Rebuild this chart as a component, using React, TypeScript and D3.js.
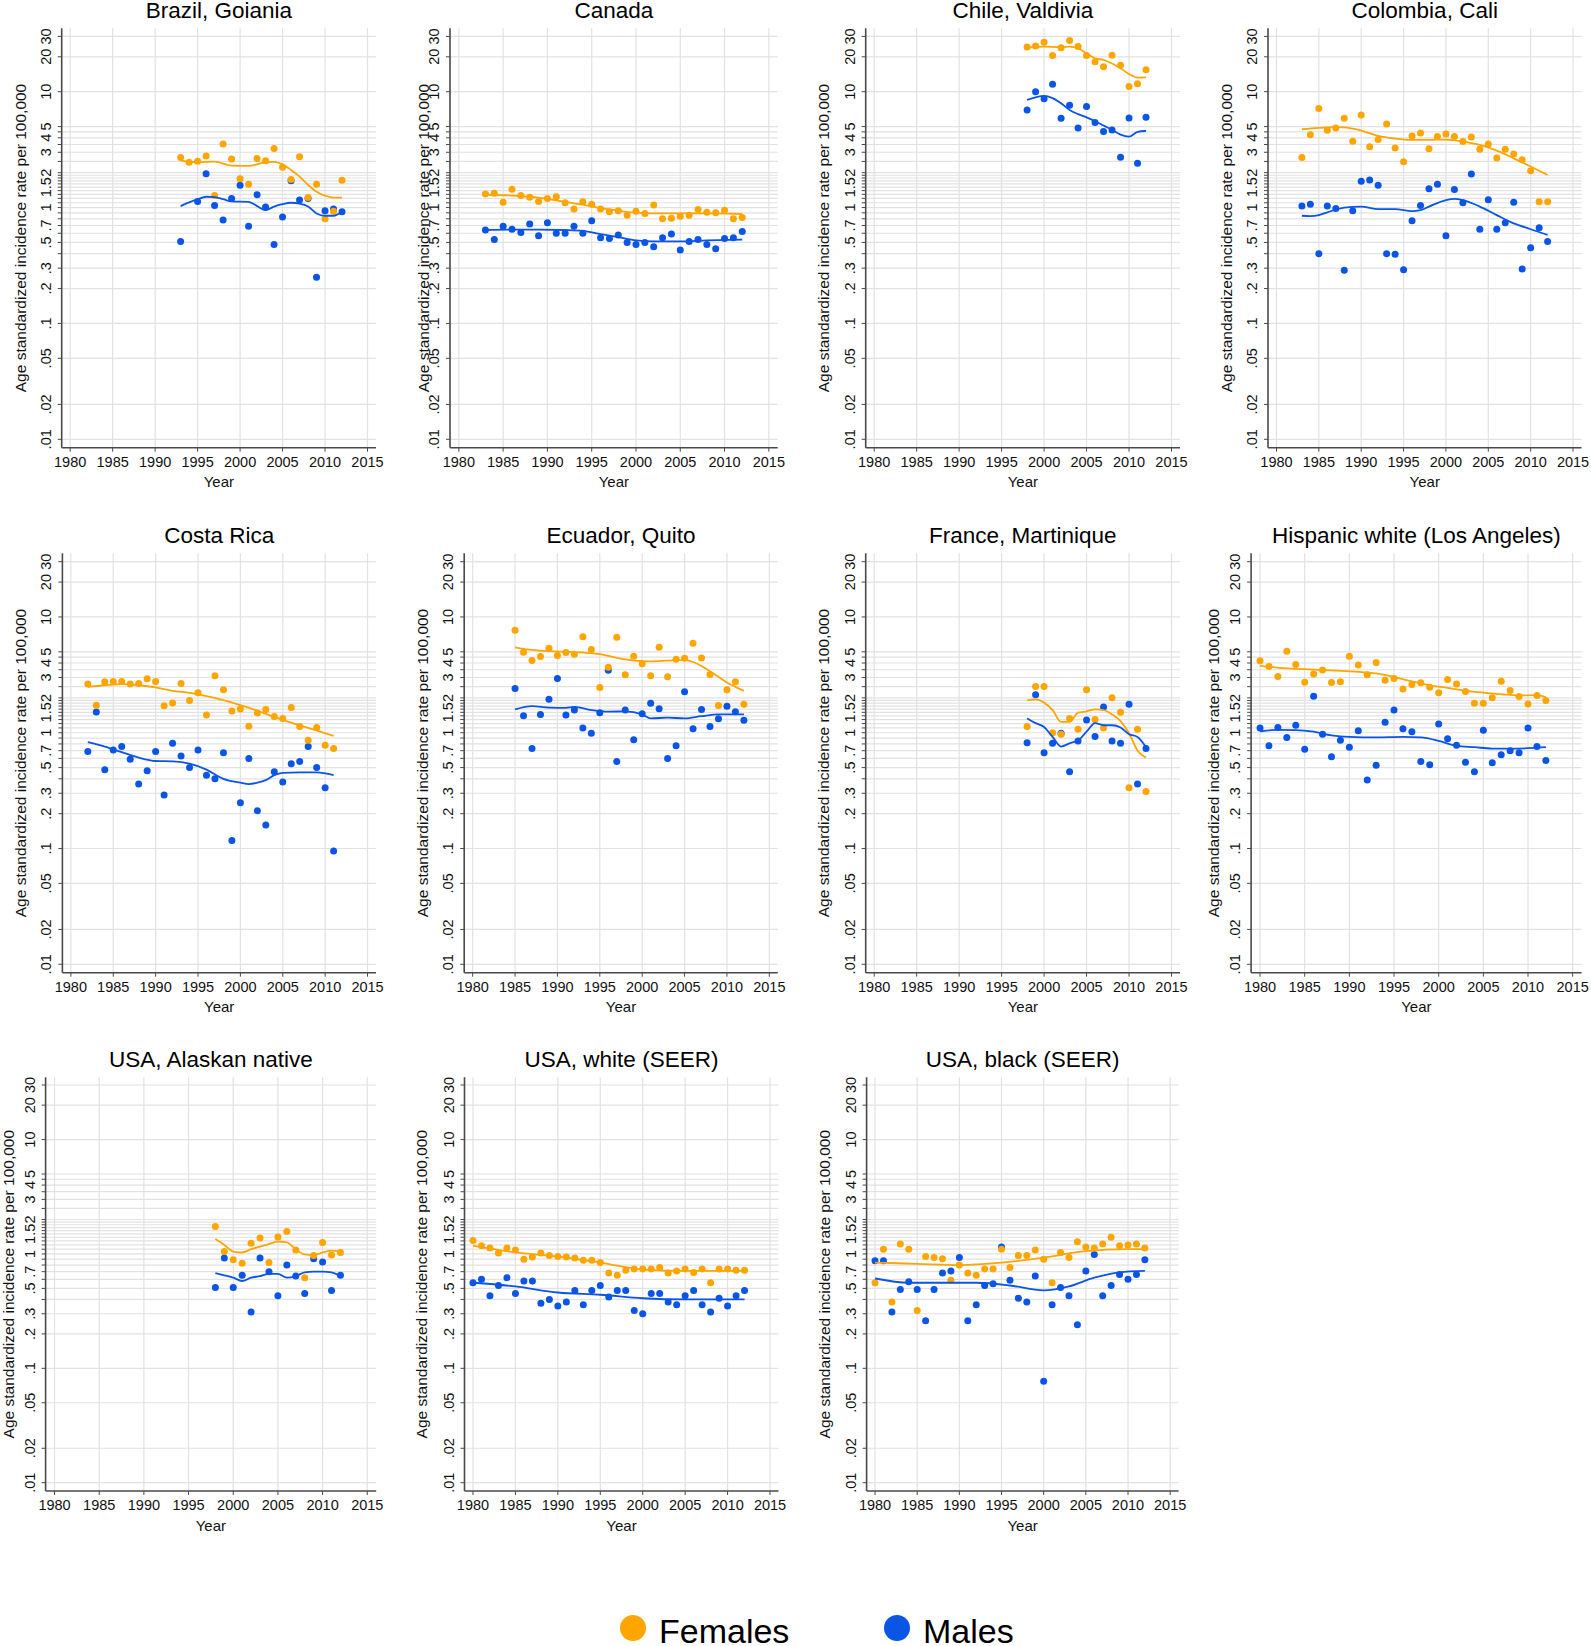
import React from 'react';
import * as d3 from 'd3';

const W = 1591;
const H = 1646;
const FEMALE = '#ffa500';
const MALE = '#0a55e6';
const FONT = '"Liberation Sans", Arial, Helvetica, sans-serif';

// ---- axes ----
const xTicks = [1980, 1985, 1990, 1995, 2000, 2005, 2010, 2015];
const yLabelValues = [0.01, 0.02, 0.05, 0.1, 0.2, 0.3, 0.5, 0.7, 1, 1.5, 2, 3, 4, 5, 10, 20, 30];
const yLabelText = ['.01', '.02', '.05', '.1', '.2', '.3', '.5', '.7', '1', '1.5', '2', '3', '4', '5', '10', '20', '30'];
const yGrid = [0.01, 0.02, 0.05, 0.1, 0.2, 0.3, 0.4, 0.5, 0.6, 0.7, 0.8, 0.9, 1, 1.1, 1.2, 1.3, 1.4, 1.5, 1.6, 1.7, 1.8, 1.9, 2, 2.5, 3, 3.5, 4, 4.5, 5, 10, 20, 30];
const legendLabels = ['Females', 'Males'];

// ---- data ----
// Brazil, Goiania (1993-2012)
const brazilF = [2.70, 2.46, 2.51, 2.79, 1.27, 3.54, 2.63, 1.77, 1.59, 2.65, 2.53, 3.23, 2.23, 1.75, 2.75, 1.22, 1.59, 0.80, 0.93, 1.72];
const brazilM = [0.51, null, 1.13, 1.96, 1.04, 0.78, 1.20, 1.56, 0.69, 1.29, 1.01, 0.48, 0.83, 1.70, 1.16, 1.20, 0.25, 0.94, 0.97, 0.92];
const brazilFFit: [number, number][] = [[1993, 2.54], [1995, 2.46], [1997, 2.49], [1999, 2.30], [2001, 2.29], [2003, 2.46], [2004, 2.48], [2005, 2.36], [2006, 2.11], [2007, 1.85], [2008, 1.57], [2009, 1.37], [2010, 1.27], [2011, 1.22], [2012, 1.22]];
const brazilMFit: [number, number][] = [[1993, 1.03], [1995, 1.18], [1996, 1.24], [1997, 1.23], [1998, 1.18], [1999, 1.13], [2001, 1.12], [2002, 1.03], [2003, 0.95], [2004, 1.02], [2005, 1.07], [2006, 1.10], [2007, 1.08], [2008, 1.02], [2009, 0.89], [2010, 0.85], [2011, 0.85], [2012, 0.92]];

// Canada (1983-2012)
const canadaF = [1.31, 1.33, 1.11, 1.44, 1.27, 1.23, 1.13, 1.20, 1.24, 1.10, 0.97, 1.12, 1.07, 0.97, 0.92, 0.94, 0.86, 0.93, 0.89, 1.05, 0.80, 0.81, 0.84, 0.86, 0.96, 0.91, 0.90, 0.95, 0.80, 0.82];
const canadaM = [0.64, 0.53, 0.69, 0.65, 0.61, 0.72, 0.57, 0.74, 0.60, 0.60, 0.69, 0.60, 0.77, 0.55, 0.54, 0.58, 0.50, 0.48, 0.50, 0.46, 0.55, 0.59, 0.43, 0.51, 0.53, 0.48, 0.44, 0.54, 0.55, 0.62];
const canadaFFit: [number, number][] = [[1983, 1.29], [1986, 1.27], [1988, 1.24], [1990, 1.19], [1992, 1.12], [1994, 1.06], [1996, 0.99], [1998, 0.94], [2000, 0.905], [2003, 0.89], [2006, 0.89], [2009, 0.89], [2012, 0.88]];
const canadaMFit: [number, number][] = [[1983, 0.64], [1986, 0.645], [1989, 0.645], [1992, 0.64], [1994, 0.63], [1996, 0.59], [1998, 0.555], [2000, 0.52], [2002, 0.51], [2005, 0.51], [2008, 0.52], [2012, 0.53]];

// Chile, Valdivia (1998-2012)
const chileF = [24.3, 24.8, 26.7, 20.5, 24.0, 27.6, 24.5, 20.5, 18.1, 16.4, 20.6, 16.9, 11.07, 11.7, 15.5];
const chileM = [6.96, 10.0, 8.67, 11.6, 5.90, 7.64, 4.87, 7.44, 5.41, 4.53, 4.68, 2.72, 5.94, 2.41, 6.02];
const chileFFit: [number, number][] = [[1998, 24.0], [2000, 24.5], [2002, 24.2], [2003, 24.5], [2004, 23.7], [2005, 21.4], [2006, 19.4], [2007, 18.8], [2008, 17.5], [2009, 15.9], [2010, 14.2], [2011, 13.2], [2012, 13.3]];
const chileMFit: [number, number][] = [[1998, 8.5], [1999, 8.95], [2000, 9.2], [2001, 8.8], [2002, 7.95], [2003, 6.96], [2004, 6.4], [2005, 6.0], [2006, 5.56], [2007, 5.1], [2008, 4.68], [2009, 4.26], [2010, 4.1], [2011, 4.5], [2012, 4.58]];

// Colombia, Cali (1983-2012)
const colombiaF = [2.70, 4.26, 7.15, 4.65, 4.87, 5.90, 3.73, 6.30, 3.34, 3.86, 5.27, 3.27, 2.48, 4.15, 4.41, 3.21, 4.10, 4.32, 4.10, 3.71, 4.07, 3.19, 3.54, 2.68, 3.19, 2.90, 2.58, 2.08, 1.12, 1.12];
const colombiaM = [1.03, 1.07, 0.40, 1.03, 0.98, 0.288, 0.94, 1.69, 1.73, 1.56, 0.40, 0.396, 0.29, 0.77, 1.04, 1.45, 1.59, 0.57, 1.43, 1.10, 1.95, 0.65, 1.17, 0.65, 0.74, 1.11, 0.295, 0.45, 0.67, 0.51];
const colombiaFFit: [number, number][] = [[1983, 4.74], [1985, 4.87], [1987, 4.94], [1988, 4.92], [1990, 4.62], [1992, 4.15], [1994, 3.94], [1996, 3.84], [1998, 3.84], [2000, 3.86], [2002, 3.71], [2004, 3.47], [2006, 3.10], [2008, 2.66], [2010, 2.26], [2012, 1.91]];
const colombiaMFit: [number, number][] = [[1983, 0.85], [1984, 0.845], [1985, 0.86], [1986, 0.91], [1988, 1.0], [1990, 1.02], [1992, 0.97], [1994, 0.97], [1996, 0.93], [1997, 0.95], [1998, 1.02], [2000, 1.16], [2001, 1.19], [2002, 1.16], [2004, 1.02], [2006, 0.86], [2008, 0.73], [2010, 0.65], [2012, 0.58]];

// Costa Rica (1982-2011)
const costaF = [2.63, 1.73, 2.75, 2.77, 2.77, 2.63, 2.66, 2.92, 2.77, 1.71, 1.81, 2.66, 1.90, 2.21, 1.42, 3.10, 2.35, 1.54, 1.60, 1.14, 1.48, 1.59, 1.38, 1.33, 1.65, 1.13, 0.86, 1.11, 0.78, 0.73];
const costaM = [0.69, 1.51, 0.48, 0.71, 0.76, 0.59, 0.36, 0.47, 0.69, 0.29, 0.81, 0.63, 0.50, 0.71, 0.43, 0.40, 0.67, 0.117, 0.248, 0.60, 0.212, 0.160, 0.46, 0.375, 0.54, 0.565, 0.76, 0.50, 0.335, 0.095];
const costaFFit: [number, number][] = [[1982, 2.49], [1984, 2.57], [1986, 2.63], [1988, 2.57], [1990, 2.46], [1992, 2.30], [1994, 2.21], [1996, 2.07], [1998, 1.91], [2000, 1.73], [2002, 1.55], [2004, 1.37], [2006, 1.22], [2008, 1.10], [2011, 0.94]];
const costaMFit: [number, number][] = [[1982, 0.83], [1984, 0.76], [1986, 0.68], [1988, 0.61], [1990, 0.57], [1992, 0.565], [1994, 0.54], [1996, 0.48], [1998, 0.40], [2000, 0.37], [2001, 0.36], [2002, 0.37], [2003, 0.39], [2004, 0.43], [2005, 0.45], [2007, 0.455], [2009, 0.455], [2011, 0.43]];

// Ecuador, Quito (1985-2012)
const ecuadorF = [7.68, 4.96, 4.20, 4.55, 5.37, 4.64, 4.93, 4.77, 6.73, 5.23, 2.46, 3.67, 6.68, 3.16, 4.58, 3.94, 3.10, 5.48, 3.04, 4.31, 4.40, 5.93, 4.43, 3.18, 1.72, 2.35, 2.75, 1.76];
const ecuadorM = [2.41, 1.40, 0.73, 1.44, 1.95, 2.94, 1.42, 1.57, 1.10, 0.99, 1.49, 3.47, 0.565, 1.57, 0.87, 1.46, 1.80, 1.61, 0.60, 0.77, 2.26, 1.08, 1.59, 1.13, 1.32, 1.69, 1.52, 1.28];
const ecuadorFFit: [number, number][] = [[1985, 5.47], [1987, 5.19], [1989, 5.06], [1991, 5.0], [1993, 4.93], [1995, 4.77], [1997, 4.43], [1999, 4.2], [2001, 4.14], [2003, 4.2], [2005, 4.25], [2006, 4.08], [2007, 3.77], [2008, 3.39], [2009, 3.04], [2010, 2.71], [2011, 2.49], [2012, 2.30]];
const ecuadorMFit: [number, number][] = [[1985, 1.59], [1987, 1.70], [1989, 1.65], [1991, 1.64], [1992, 1.67], [1994, 1.57], [1996, 1.52], [1998, 1.53], [2000, 1.44], [2001, 1.33], [2003, 1.35], [2005, 1.33], [2007, 1.39], [2009, 1.44], [2012, 1.44]];

// France, Martinique (1998-2012)
const franceF = [1.13, 2.51, 2.51, 1.0, 0.97, 1.33, 1.07, 2.35, 1.30, 1.10, 2.0, 1.50, 0.335, 1.07, 0.31];
const franceM = [0.82, 2.13, 0.67, 0.81, 0.99, 0.46, 0.85, 1.29, 0.93, 1.67, 0.85, 0.81, 1.76, 0.36, 0.73];
const franceFFit: [number, number][] = [[1998, 1.90], [1999, 1.94], [2000, 1.82], [2001, 1.57], [2002, 1.24], [2003, 1.24], [2004, 1.49], [2005, 1.53], [2006, 1.59], [2007, 1.57], [2008, 1.44], [2009, 1.26], [2010, 0.99], [2011, 0.70], [2012, 0.61]];
const franceMFit: [number, number][] = [[1998, 1.33], [1999, 1.21], [2000, 1.12], [2001, 0.92], [2002, 0.76], [2003, 0.81], [2004, 0.86], [2005, 1.02], [2006, 1.21], [2007, 1.16], [2008, 1.16], [2009, 1.11], [2010, 0.97], [2011, 0.92], [2012, 0.75]];

// Hispanic white (Los Angeles) (1980-2012)
const hispF = [4.18, 3.73, 3.06, 5.06, 3.88, 2.73, 3.22, 3.49, 2.71, 2.75, 4.58, 3.85, 3.16, 4.04, 2.84, 2.94, 2.39, 2.61, 2.70, 2.47, 2.21, 2.88, 2.64, 2.27, 1.80, 1.80, 2.0, 2.79, 2.32, 2.06, 1.77, 2.10, 1.90];
const hispM = [1.10, 0.77, 1.11, 0.91, 1.16, 0.72, 2.07, 0.97, 0.62, 0.86, 0.75, 1.04, 0.39, 0.525, 1.23, 1.57, 1.08, 1.02, 0.565, 0.53, 1.19, 0.885, 0.78, 0.556, 0.46, 1.05, 0.55, 0.645, 0.70, 0.67, 1.10, 0.76, 0.577];
const hispFFit: [number, number][] = [[1980, 3.78], [1983, 3.59], [1986, 3.51], [1989, 3.42], [1991, 3.36], [1993, 3.25], [1995, 3.04], [1997, 2.77], [1999, 2.57], [2001, 2.44], [2003, 2.30], [2005, 2.22], [2007, 2.15], [2009, 2.10], [2011, 2.11], [2012, 2.02]];
const hispMFit: [number, number][] = [[1980, 1.03], [1982, 1.06], [1984, 1.055], [1986, 1.02], [1988, 0.95], [1990, 0.92], [1993, 0.91], [1996, 0.92], [1998, 0.91], [2000, 0.85], [2002, 0.77], [2004, 0.75], [2006, 0.73], [2008, 0.73], [2010, 0.735], [2012, 0.75]];

// USA, Alaskan native (1998-2012)
const alaskaF = [1.74, 1.05, 0.89, 0.83, 1.24, 1.38, 0.84, 1.41, 1.57, 1.08, 0.62, 0.97, 1.26, 0.98, 1.03];
const alaskaM = [0.51, 0.92, 0.51, 0.65, 0.31, 0.92, 0.70, 0.43, 0.80, 0.64, 0.45, 0.91, 0.85, 0.48, 0.65];
const alaskaFFit: [number, number][] = [[1998, 1.35], [1999, 1.20], [2000, 1.05], [2001, 1.03], [2002, 1.10], [2003, 1.16], [2004, 1.22], [2005, 1.28], [2006, 1.26], [2007, 1.10], [2008, 0.99], [2009, 0.98], [2010, 1.03], [2011, 1.07], [2012, 1.05]];
const alaskaMFit: [number, number][] = [[1998, 0.68], [1999, 0.65], [2000, 0.62], [2001, 0.58], [2002, 0.62], [2003, 0.64], [2004, 0.67], [2005, 0.67], [2006, 0.62], [2007, 0.64], [2008, 0.69], [2009, 0.70], [2010, 0.70], [2011, 0.69], [2012, 0.64]];

// USA, white (SEER) (1980-2012)
const whiteF = [1.31, 1.18, 1.13, 1.02, 1.13, 1.08, 0.90, 0.94, 1.02, 0.97, 0.95, 0.94, 0.92, 0.88, 0.88, 0.84, 0.68, 0.65, 0.72, 0.74, 0.74, 0.74, 0.76, 0.68, 0.71, 0.74, 0.69, 0.74, 0.56, 0.74, 0.74, 0.72, 0.72];
const whiteM = [0.56, 0.60, 0.43, 0.53, 0.62, 0.45, 0.58, 0.58, 0.37, 0.40, 0.35, 0.38, 0.48, 0.36, 0.48, 0.53, 0.42, 0.48, 0.48, 0.32, 0.30, 0.45, 0.45, 0.38, 0.36, 0.43, 0.48, 0.36, 0.31, 0.41, 0.35, 0.43, 0.48];
const whiteFFit: [number, number][] = [[1980, 1.18], [1985, 1.03], [1990, 0.95], [1995, 0.84], [2000, 0.73], [2005, 0.71], [2012, 0.71]];
const whiteMFit: [number, number][] = [[1980, 0.56], [1985, 0.52], [1990, 0.46], [1995, 0.44], [2000, 0.41], [2005, 0.40], [2012, 0.40]];

// USA, black (SEER) (1980-2012)
const blackF = [0.56, 1.10, 0.38, 1.22, 1.10, 0.32, 0.95, 0.93, 0.91, 0.59, 0.80, 0.68, 0.65, 0.74, 0.74, 1.10, 0.76, 0.97, 0.97, 1.08, 0.90, 0.56, 1.03, 0.93, 1.28, 1.15, 1.13, 1.22, 1.40, 1.18, 1.20, 1.22, 1.13];
const blackM = [0.87, 0.87, 0.31, 0.49, 0.57, 0.49, 0.26, 0.49, 0.68, 0.71, 0.93, 0.26, 0.36, 0.53, 0.55, 1.15, 0.59, 0.41, 0.38, 0.64, 0.077, 0.36, 0.51, 0.43, 0.24, 0.71, 0.99, 0.43, 0.53, 0.66, 0.60, 0.66, 0.89];
const blackFFit: [number, number][] = [[1980, 0.84], [1985, 0.82], [1990, 0.80], [1995, 0.84], [2000, 0.93], [2005, 1.06], [2010, 1.10], [2012, 1.10]];
const blackMFit: [number, number][] = [[1980, 0.61], [1984, 0.56], [1988, 0.56], [1992, 0.56], [1996, 0.53], [2000, 0.48], [2003, 0.52], [2006, 0.62], [2009, 0.69], [2012, 0.71]];

const panels = [
  { title: 'Brazil, Goiania', start: 1993, f: brazilF, m: brazilM, fFit: brazilFFit, mFit: brazilMFit },
  { title: 'Canada', start: 1983, f: canadaF, m: canadaM, fFit: canadaFFit, mFit: canadaMFit },
  { title: 'Chile, Valdivia', start: 1998, f: chileF, m: chileM, fFit: chileFFit, mFit: chileMFit },
  { title: 'Colombia, Cali', start: 1983, f: colombiaF, m: colombiaM, fFit: colombiaFFit, mFit: colombiaMFit },
  { title: 'Costa Rica', start: 1982, f: costaF, m: costaM, fFit: costaFFit, mFit: costaMFit },
  { title: 'Ecuador, Quito', start: 1985, f: ecuadorF, m: ecuadorM, fFit: ecuadorFFit, mFit: ecuadorMFit },
  { title: 'France, Martinique', start: 1998, f: franceF, m: franceM, fFit: franceFFit, mFit: franceMFit },
  { title: 'Hispanic white (Los Angeles)', start: 1980, f: hispF, m: hispM, fFit: hispFFit, mFit: hispMFit },
  { title: 'USA, Alaskan native', start: 1998, f: alaskaF, m: alaskaM, fFit: alaskaFFit, mFit: alaskaMFit },
  { title: 'USA, white (SEER)', start: 1980, f: whiteF, m: whiteM, fFit: whiteFFit, mFit: whiteMFit },
  { title: 'USA, black (SEER)', start: 1980, f: blackF, m: blackM, fFit: blackFFit, mFit: blackMFit },
];

// ---- layout ----
const rows = [
  { top: 28.3, bottom: 447.7, yLo: 439.3, yHi: 36.4 },
  { top: 553.3, bottom: 972.7, yLo: 964.3, yHi: 561.7 },
  { top: 1077.3, bottom: 1491, yLo: 1482.7, yHi: 1085 },
];
const layout = [
  { row: 0, left: 61.7, right: 376, titleOff: 36 },
  { row: 0, left: 450, right: 777.7, titleOff: 21.3 },
  { row: 0, left: 865.7, right: 1180, titleOff: 37 },
  { row: 0, left: 1268, right: 1581.5, titleOff: 36.3 },
  { row: 1, left: 62.4, right: 376, titleOff: 36.6 },
  { row: 1, left: 464.2, right: 777.8, titleOff: 36.6 },
  { row: 1, left: 865.7, right: 1180, titleOff: 37 },
  { row: 1, left: 1251.1, right: 1581.6, titleOff: 32 },
  { row: 2, left: 45.6, right: 376.2, titleOff: 31.7 },
  { row: 2, left: 464.5, right: 778.5, titleOff: 38 },
  { row: 2, left: 866.6, right: 1178.6, titleOff: 37 },
];

const GRID = '#e2e2e2';
const AXIS = '#4a4a4a';

type P = typeof panels[number];

function Panel({ p, l }: { p: P; l: typeof layout[number] }) {
  const r = rows[l.row];
  const x = d3.scaleLinear().domain([1979, 2016]).range([l.left, l.right]);
  const y = d3.scaleLog().domain([0.01, 30]).range([r.yLo, r.yHi]);
  const line = d3
    .line<[number, number]>()
    .x((d) => x(d[0]))
    .y((d) => y(d[1]))
    .curve(d3.curveMonotoneX);
  const pts = (arr: (number | null)[]) =>
    arr.map((v, k) => [p.start + k, v] as [number, number | null]).filter((d) => d[1] != null) as [number, number][];
  const cx = (l.left + l.right) / 2;
  const cy = (r.top + r.bottom) / 2;
  return (
    <g>
      {xTicks.map((t) => (
        <line key={'vx' + t} x1={x(t)} x2={x(t)} y1={r.top} y2={r.bottom} stroke={GRID} strokeWidth={1.2} />
      ))}
      {yGrid.map((v) => (
        <line key={'gy' + v} x1={l.left} x2={l.right} y1={y(v)} y2={y(v)} stroke={GRID} strokeWidth={1.2} />
      ))}
      {yGrid.map((v) => (
        <line key={'ty' + v} x1={l.left - 4} x2={l.left} y1={y(v)} y2={y(v)} stroke={AXIS} strokeWidth={1} />
      ))}
      {xTicks.map((t) => (
        <line key={'tx' + t} x1={x(t)} x2={x(t)} y1={r.bottom} y2={r.bottom + 4} stroke={AXIS} strokeWidth={1} />
      ))}
      <line x1={l.left} x2={l.left} y1={r.top} y2={r.bottom} stroke={AXIS} strokeWidth={1.6} />
      <line x1={l.left} x2={l.right} y1={r.bottom} y2={r.bottom} stroke={AXIS} strokeWidth={1.6} />
      {yLabelValues.map((v, k) => (
        <text
          key={'ly' + v}
          transform={`translate(${l.left - 11},${y(v)}) rotate(-90)`}
          textAnchor="middle"
          fontSize={14.5}
          fill="#111"
        >
          {yLabelText[k]}
        </text>
      ))}
      {xTicks.map((t) => (
        <text key={'lx' + t} x={x(t)} y={r.bottom + 19.3} textAnchor="middle" fontSize={14.5} fill="#111">
          {t}
        </text>
      ))}
      <text x={cx} y={r.bottom + 39.6} textAnchor="middle" fontSize={15} fill="#111">
        Year
      </text>
      <text
        transform={`translate(${l.left - l.titleOff},${cy}) rotate(-90)`}
        textAnchor="middle"
        fontSize={15.5}
        fill="#111"
      >
        Age standardized incidence rate per 100,000
      </text>
      <text x={cx} y={r.top - 10.5} textAnchor="middle" fontSize={22.5} fill="#000">
        {p.title}
      </text>
      {pts(p.m).map((d) => (
        <circle key={'m' + d[0]} cx={x(d[0])} cy={y(d[1])} r={3.5} fill={MALE} />
      ))}
      {pts(p.f).map((d) => (
        <circle key={'f' + d[0]} cx={x(d[0])} cy={y(d[1])} r={3.5} fill={FEMALE} />
      ))}
      <path d={line(p.fFit) || ''} fill="none" stroke={FEMALE} strokeWidth={1.8} />
      <path d={line(p.mFit) || ''} fill="none" stroke={MALE} strokeWidth={1.8} />
    </g>
  );
}

export default function App() {
  const legendColors = [FEMALE, MALE];
  const legendX = [633, 897];
  return (
    <svg
      width={W}
      height={H}
      style={{ position: 'absolute', left: 0, top: 0, display: 'block' }}
      fontFamily={FONT}
    >
      <rect width={W} height={H} fill="#fff" />
      {panels.map((p, i) => (
        <Panel key={p.title} p={p} l={layout[i]} />
      ))}
      {legendLabels.map((lab, i) => (
        <g key={lab}>
          <circle cx={legendX[i]} cy={1628} r={13} fill={legendColors[i]} />
          <text x={legendX[i] + 26} y={1643} fontSize={34} fill="#000">
            {lab}
          </text>
        </g>
      ))}
    </svg>
  );
}
